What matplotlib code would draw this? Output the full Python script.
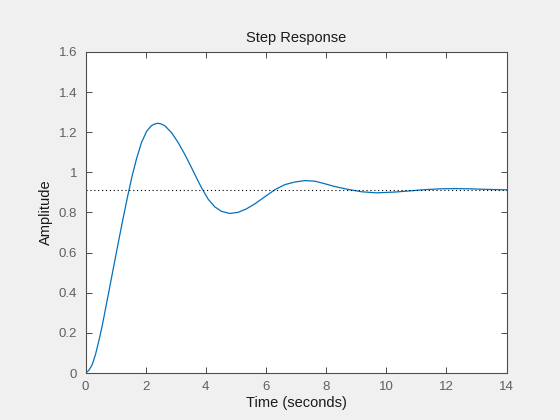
import matplotlib
matplotlib.use('Agg')
import matplotlib.pyplot as plt

# points
t = [0.0, 0.11, 0.22, 0.33, 0.44, 0.55, 0.66, 0.77, 0.88, 1.0, 1.11, 1.25,
     1.40, 1.55, 1.70, 1.86, 2.03, 2.19, 2.30, 2.41, 2.52, 2.64, 2.86, 3.08,
     3.30, 3.53, 3.74, 3.86, 4.08, 4.30, 4.52, 4.80, 5.08, 5.35, 5.63, 5.96,
     6.30, 6.63, 6.96, 7.30, 7.63, 7.94, 8.30, 8.77, 9.20, 9.68, 10.30, 10.80,
     11.30, 11.80, 12.30, 12.80, 13.40, 14.0]
amp = [0.0, 0.013, 0.041, 0.091, 0.158, 0.232, 0.316, 0.401, 0.487, 0.580,
       0.665, 0.771, 0.880, 0.982, 1.070, 1.148, 1.204, 1.233, 1.241, 1.245,
       1.241, 1.232, 1.198, 1.149, 1.090, 1.022, 0.958, 0.923, 0.866, 0.828,
       0.806, 0.795, 0.801, 0.818, 0.843, 0.878, 0.914, 0.939, 0.952, 0.959,
       0.956, 0.944, 0.929, 0.914, 0.903, 0.898, 0.902, 0.908, 0.914, 0.918,
       0.919, 0.918, 0.915, 0.913]
final_value = 0.913

xticks = [0, 2, 4, 6, 8, 10, 12, 14]
yticks = [0, 0.2, 0.4, 0.6, 0.8, 1, 1.2, 1.4, 1.6]

plt.rcParams['font.family'] = ['Liberation Sans', 'DejaVu Sans']

fig = plt.figure(figsize=(5.6, 4.2), dpi=100, facecolor='#f0f0f0')
ax = fig.add_axes([0.1527, 0.1119, 0.7518, 0.7643])

ax.plot(t, amp, color='#0072bd', lw=0.9)
ax.axhline(final_value, color='black', lw=0.8, linestyle=(0, (1, 2.5)))

ax.set_xlim(0, 14)
ax.set_ylim(0, 1.6)
ax.set_xticks(xticks)
ax.set_yticks(yticks)
ax.set_xticklabels([str(v) for v in xticks])
ax.set_yticklabels(['0', '0.2', '0.4', '0.6', '0.8', '1', '1.2', '1.4', '1.6'])

ax.tick_params(direction='in', top=True, right=True, length=4, width=0.7,
               colors='#4d4d4d', labelcolor='#606060', labelsize=9.5)
ax.tick_params(axis='x', pad=6)
ax.tick_params(axis='y', pad=6)
for s in ax.spines.values():
    s.set_color('#4d4d4d')
    s.set_linewidth(0.8)

ax.set_xlabel('Time (seconds)', fontsize=10.5, color='#1a1a1a', labelpad=2)
ax.set_ylabel('Amplitude', fontsize=10.5, color='#1a1a1a', labelpad=4)
ax.set_title('Step Response', fontsize=10.5, color='#1a1a1a', pad=7)

fig.savefig('out.png', dpi=100, facecolor='#f0f0f0')
